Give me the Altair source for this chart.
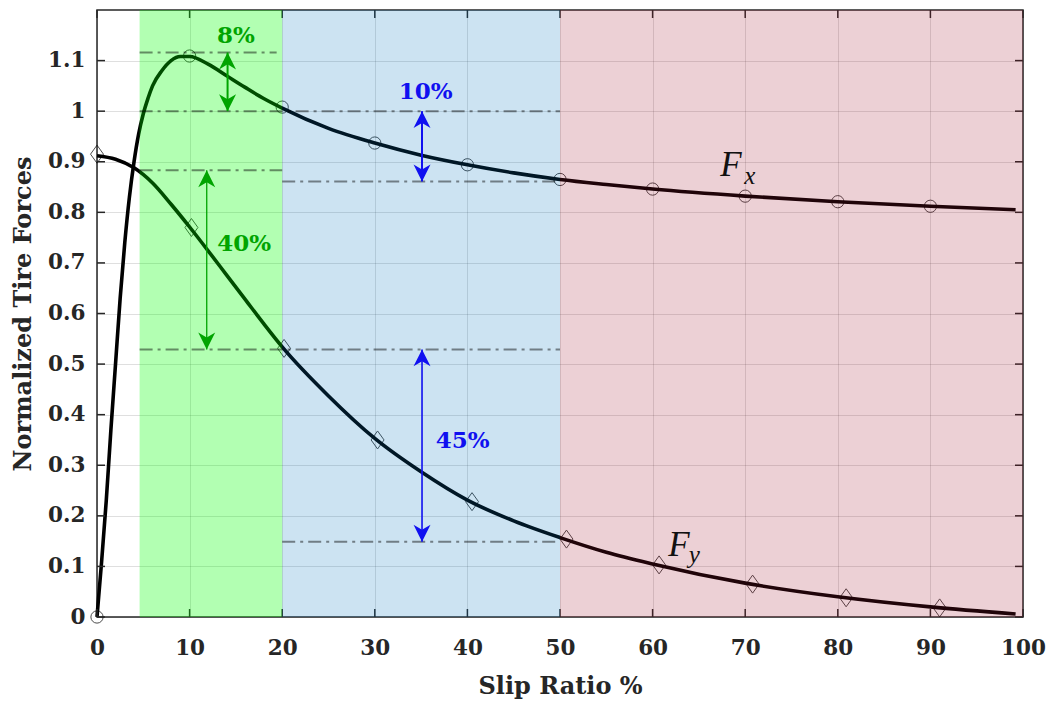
import altair as alt
import pandas as pd

# ---------------- data ----------------
fx_x = [0, 0.5, 1, 1.5, 2, 2.5, 3, 3.5, 4, 4.5, 5, 5.5, 6, 7, 8, 9, 10, 12, 14, 16, 18, 20,
        25, 30, 35, 40, 45, 50, 55, 60, 70, 80, 90, 99.2]
fx_y = [0, 0.11, 0.23, 0.37, 0.5, 0.63, 0.74, 0.83, 0.9, 0.955, 0.995, 1.025, 1.05, 1.08, 1.1,
        1.108, 1.108, 1.093, 1.07, 1.047, 1.025, 1.006, 0.966, 0.937, 0.913, 0.894, 0.878,
        0.865, 0.855, 0.846, 0.832, 0.821, 0.812, 0.805]

fy_x = [0, 2, 4, 6, 8, 10, 12, 14, 16, 18, 20, 25, 30, 35, 40, 45, 50, 55, 60, 70, 80, 90, 99.2]
fy_y = [0.912, 0.905, 0.888, 0.858, 0.816, 0.771, 0.724, 0.676, 0.628, 0.58, 0.534, 0.437, 0.353,
        0.287, 0.231, 0.19, 0.157, 0.128, 0.105, 0.067, 0.04, 0.02, 0.006]

fx_mk_x = [0, 10, 20, 30, 40, 50, 60, 70, 80, 90]
fx_mk_y = [0, 1.109, 1.008, 0.937, 0.894, 0.865, 0.846, 0.832, 0.821, 0.812]
fy_mk_x = [0, 10.2, 20.2, 30.3, 40.5, 50.7, 60.7, 70.8, 80.9, 91.0]
fy_mk_y = [0.915, 0.77, 0.531, 0.35, 0.228, 0.154, 0.103, 0.065, 0.038, 0.018]

zone_x1 = [4.6, 20, 50]
zone_x2 = [20, 50, 100]
zone_color = ["#00ff00", "#0072bd", "#a2142f"]
zone_opacity = [0.3, 0.2, 0.2]

ref_y = [1.116, 1.0, 0.883, 0.861, 0.529, 0.149]
ref_x1 = [4.6, 4.6, 4.6, 20, 4.6, 20]
ref_x2 = [19.4, 50, 20, 50, 50, 50]

arr_x = [14.1, 11.85, 35.1, 35.1]
arr_top = [1.116, 0.883, 1.0, 0.529]
arr_bot = [1.0, 0.529, 0.861, 0.149]
arr_w = [2, 1.3, 2, 1.6]
arr_color = ["#00a400", "#00a400", "#1010f0", "#1010f0"]

pct_text = ["8%", "40%", "10%", "45%"]
pct_x = [15.0, 15.9, 35.5, 39.5]
pct_y = [1.149, 0.737, 1.037, 0.347]
pct_color = ["#00a400", "#00a400", "#1010f0", "#1010f0"]

lab_main = ["F", "F"]
lab_main_x = [67.3, 61.7]
lab_main_y = [0.872, 0.121]
lab_sub = ["x", "y"]
lab_sub_x = [69.9, 63.9]
lab_sub_y = [0.857, 0.1075]

x_ticks = [0, 10, 20, 30, 40, 50, 60, 70, 80, 90, 100]
y_ticks = [0, 0.1, 0.2, 0.3, 0.4, 0.5, 0.6, 0.7, 0.8, 0.9, 1.0, 1.1]

# ---------------- chart ----------------
W, H = 926, 607
xs = alt.Scale(domain=[0, 100], nice=False, zero=False)
ys = alt.Scale(domain=[0, 1.2], nice=False, zero=False)
AX = "#262626"

fx_df = pd.DataFrame({"x": fx_x, "y": fx_y})
fy_df = pd.DataFrame({"x": fy_x, "y": fy_y})
fxm_df = pd.DataFrame({"x": fx_mk_x, "y": fx_mk_y})
fym_df = pd.DataFrame({"x": fy_mk_x, "y": fy_mk_y})
zone_df = pd.DataFrame({"x": zone_x1, "x2": zone_x2, "c": zone_color, "o": zone_opacity})
ref_df = pd.DataFrame({"y": ref_y, "x": ref_x1, "x2": ref_x2})
arr_df = pd.DataFrame({"x": arr_x, "y": arr_top, "yb": arr_bot, "w": arr_w, "c": arr_color})
arr_b_df = pd.DataFrame({"x": arr_x, "y": arr_bot, "c": arr_color})
pct_df = pd.DataFrame({"t": pct_text, "x": pct_x, "y": pct_y, "c": pct_color})
labm_df = pd.DataFrame({"t": lab_main, "x": lab_main_x, "y": lab_main_y})
labs_df = pd.DataFrame({"t": lab_sub, "x": lab_sub_x, "y": lab_sub_y})
xt_df = pd.DataFrame({"x": x_ticks})
yt_df = pd.DataFrame({"y": y_ticks})

x_axis = alt.Axis(values=x_ticks, format="d", title="Slip Ratio %", grid=True,
                  labelFlush=False, labelOverlap=False)
y_axis = alt.Axis(values=y_ticks, format=".1~f", title="Normalized Tire Forces", grid=True,
                  labelFlush=False, labelOverlap=False)


def X(field="x"):
    return alt.X(f"{field}:Q", scale=xs, axis=x_axis)


def Y(field="y"):
    return alt.Y(f"{field}:Q", scale=ys, axis=y_axis)


fx_line = alt.Chart(fx_df).mark_line(color="black", strokeWidth=3.6, interpolate="monotone").encode(
    x=X(), y=Y())
fy_line = alt.Chart(fy_df).mark_line(color="black", strokeWidth=3.6, interpolate="monotone").encode(
    x=X(), y=Y())
fx_mk = alt.Chart(fxm_df).mark_point(shape="circle", size=150, color="black", strokeWidth=1,
                                     filled=False).encode(x=X(), y=Y())
fy_mk = alt.Chart(fym_df).mark_point(shape="M0,-1 L0.72,0 L0,1 L-0.72,0 Z", size=324,
                                     color="black", strokeWidth=1, filled=False).encode(x=X(), y=Y())

tick_style = dict(color=AX, strokeWidth=1.5)
t_bottom = alt.Chart(xt_df).mark_rule(**tick_style).encode(
    x=X(), y=alt.value(H), y2=alt.value(H - 8))
t_top = alt.Chart(xt_df).mark_rule(**tick_style).encode(
    x=X(), y=alt.value(0), y2=alt.value(8))
t_left = alt.Chart(yt_df).mark_rule(**tick_style).encode(
    y=Y(), x=alt.value(0), x2=alt.value(8))
t_right = alt.Chart(yt_df).mark_rule(**tick_style).encode(
    y=Y(), x=alt.value(W), x2=alt.value(W - 8))

zones = alt.Chart(zone_df).mark_rect().encode(
    x=X(), x2="x2:Q",
    y=alt.value(0), y2=alt.value(H),
    color=alt.Color("c:N", scale=None),
    opacity=alt.Opacity("o:Q", scale=None),
)

refs = alt.Chart(ref_df).mark_rule(color="black", opacity=0.45, strokeWidth=2,
                                   strokeDash=[13, 5, 3, 5]).encode(
    x=X(), x2="x2:Q", y=Y())

shafts = alt.Chart(arr_df).mark_rule().encode(
    x=X(), y=Y(), y2="yb:Q",
    color=alt.Color("c:N", scale=None),
    strokeWidth=alt.StrokeWidth("w:Q", scale=None),
)
heads_up = alt.Chart(arr_df).mark_point(shape="M0,0 L0.5,1 L0,0.7 L-0.5,1 Z", size=1150,
                                        filled=True, opacity=1, strokeWidth=0).encode(
    x=X(), y=Y(), color=alt.Color("c:N", scale=None))
heads_dn = alt.Chart(arr_b_df).mark_point(shape="M0,0 L0.5,-1 L0,-0.7 L-0.5,-1 Z", size=1150,
                                          filled=True, opacity=1, strokeWidth=0).encode(
    x=X(), y=Y(), color=alt.Color("c:N", scale=None))
pct = alt.Chart(pct_df).mark_text(font="DejaVu Serif", fontWeight="bold", fontSize=23).encode(
    x=X(), y=Y(), text="t:N", color=alt.Color("c:N", scale=None))
labm = alt.Chart(labm_df).mark_text(font="Liberation Serif", fontStyle="italic", fontSize=35,
                                    align="left", baseline="alphabetic", color="#111111").encode(
    x=X(), y=Y(), text="t:N")
labs = alt.Chart(labs_df).mark_text(font="Liberation Serif", fontStyle="italic", fontSize=25,
                                    align="left", baseline="alphabetic", color="#111111").encode(
    x=X(), y=Y(), text="t:N")

chart = alt.layer(
    fx_line, fy_line, fx_mk, fy_mk,
    t_bottom, t_top, t_left, t_right,
    zones, refs, shafts, heads_up, heads_dn, pct, labm, labs,
).properties(
    width=W, height=H,
    autosize=alt.AutoSizeParams(type="none"),
    padding={"left": 97, "top": 10, "right": 28, "bottom": 85},
    background="white",
).configure_view(
    stroke=AX, strokeWidth=1.5,
).configure_axis(
    labelFont="DejaVu Serif", labelFontWeight="bold", labelFontSize=21.5, labelColor=AX,
    titleFont="DejaVu Serif", titleFontWeight="bold", titleFontSize=24, titleColor=AX,
    gridColor=AX, gridOpacity=0.15, gridWidth=1,
    domain=False, ticks=False, tickSize=0,
).configure_axisX(
    labelPadding=20, titlePadding=16,
).configure_axisY(
    labelPadding=12, titlePadding=12,
)

chart.save("out.html", embed_options={"renderer": "svg", "actions": False})
